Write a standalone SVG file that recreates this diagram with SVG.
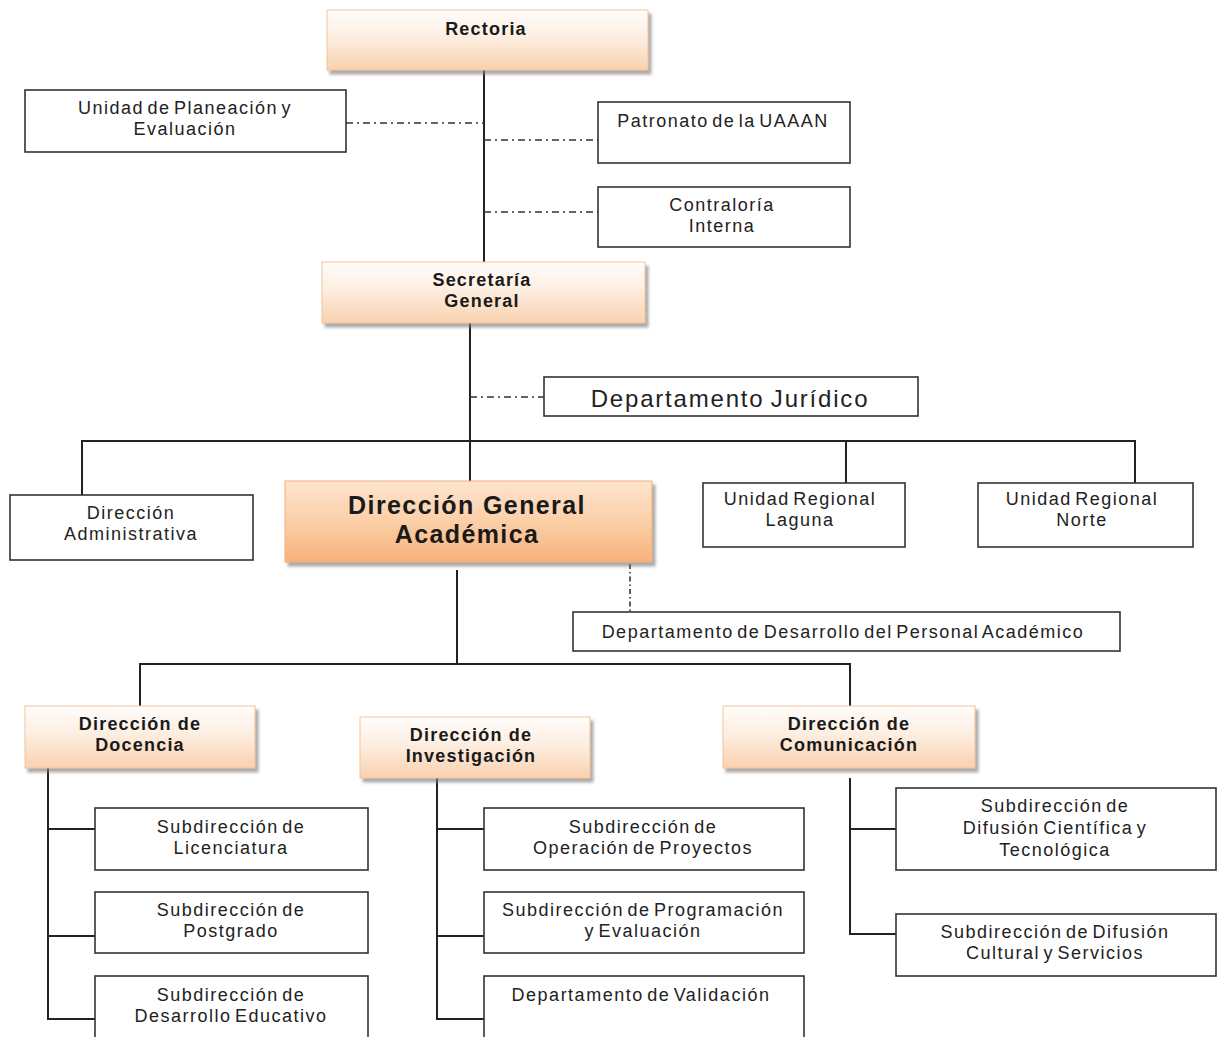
<svg xmlns="http://www.w3.org/2000/svg" width="1218" height="1037" viewBox="0 0 1218 1037">
<defs>
<linearGradient id="gHead" x1="0" y1="0" x2="0" y2="1">
<stop offset="0" stop-color="#fffdfb"/>
<stop offset="0.45" stop-color="#fdeee1"/>
<stop offset="1" stop-color="#f9d1af"/>
</linearGradient>
<linearGradient id="gMain" x1="0" y1="0" x2="0" y2="1">
<stop offset="0" stop-color="#fde4cf"/>
<stop offset="0.5" stop-color="#fbcfa8"/>
<stop offset="1" stop-color="#f8b17a"/>
</linearGradient>
<filter id="sh" x="-5%" y="-10%" width="115%" height="130%">
<feDropShadow dx="3" dy="4" stdDeviation="1.5" flood-color="#7a7a7a" flood-opacity="0.65"/>
</filter>
</defs>
<style>
.head{fill:url(#gHead);stroke:#f2c39c;stroke-width:1;filter:url(#sh)}
.main{fill:url(#gMain);stroke:#f3ae78;stroke-width:1;filter:url(#sh)}
.box{fill:#ffffff;stroke:#333333;stroke-width:1.6}
.t{font-family:"Liberation Sans",Arial,sans-serif;font-size:18px;fill:#222222;text-anchor:middle;letter-spacing:1.5px;word-spacing:-3px}
.b{font-family:"Liberation Sans",Arial,sans-serif;font-size:18px;font-weight:bold;fill:#1a1a1a;text-anchor:middle;letter-spacing:1.2px}
.big{font-family:"Liberation Sans",Arial,sans-serif;font-size:25px;font-weight:bold;fill:#1a1a1a;text-anchor:middle;letter-spacing:1.4px}
.jur{font-family:"Liberation Sans",Arial,sans-serif;font-size:24px;fill:#222222;text-anchor:middle;letter-spacing:1.8px;word-spacing:-2px}
.ln{stroke:#222222;stroke-width:2;fill:none}
.dd{stroke:#333333;stroke-width:1.6;fill:none;stroke-dasharray:7 4 2 4}
.dt{stroke:#333333;stroke-width:1.6;fill:none;stroke-dasharray:5 3 1.5 3}
</style>

<g id="connectors">
<line class="ln" x1="484" y1="70" x2="484" y2="262"/>
<line class="dd" x1="346" y1="123" x2="484" y2="123"/>
<line class="dd" x1="484" y1="140" x2="598" y2="140"/>
<line class="dd" x1="484" y1="212" x2="598" y2="212"/>
<line class="ln" x1="470" y1="323" x2="470" y2="481"/>
<line class="dd" x1="470" y1="397" x2="544" y2="397"/>
<polyline class="ln" points="82,495 82,441 1135,441 1135,483"/>
<line class="ln" x1="846" y1="441" x2="846" y2="483"/>
<line class="dt" x1="630" y1="564" x2="630" y2="612"/>
<line class="ln" x1="457" y1="570" x2="457" y2="664"/>
<polyline class="ln" points="140,706 140,664 850,664 850,706"/>
<polyline class="ln" points="48,768 48,1019 95,1019"/>
<line class="ln" x1="48" y1="829" x2="95" y2="829"/>
<line class="ln" x1="48" y1="936" x2="95" y2="936"/>
<polyline class="ln" points="437,778 437,1019 484,1019"/>
<line class="ln" x1="437" y1="829" x2="484" y2="829"/>
<line class="ln" x1="437" y1="936" x2="484" y2="936"/>
<polyline class="ln" points="850,778 850,934 896,934"/>
<line class="ln" x1="850" y1="829" x2="896" y2="829"/>
</g>

<g id="rectoria">
<rect class="head" x="327" y="10" width="321" height="60"/>
<text class="b" x="486" y="35">Rectoria</text>
</g>
<g id="planeacion">
<rect class="box" x="25" y="90" width="321" height="62"/>
<text class="t" x="185" y="114">Unidad de Planeación y</text>
<text class="t" x="185" y="135">Evaluación</text>
</g>
<g id="patronato">
<rect class="box" x="598" y="102" width="252" height="61"/>
<text class="t" x="723" y="127">Patronato de la UAAAN</text>
</g>
<g id="contraloria">
<rect class="box" x="598" y="187" width="252" height="60"/>
<text class="t" x="722" y="211">Contraloría</text>
<text class="t" x="722" y="232">Interna</text>
</g>
<g id="secretaria">
<rect class="head" x="322" y="262" width="323" height="61"/>
<text class="b" x="482" y="286">Secretaría</text>
<text class="b" x="482" y="307">General</text>
</g>
<g id="juridico">
<rect class="box" x="544" y="377" width="374" height="39"/>
<text class="jur" x="730" y="407">Departamento Jurídico</text>
</g>
<g id="administrativa">
<rect class="box" x="10" y="495" width="243" height="65"/>
<text class="t" x="131" y="519">Dirección</text>
<text class="t" x="131" y="540">Administrativa</text>
</g>
<g id="dga">
<rect class="main" x="285" y="481" width="367" height="81"/>
<text class="big" x="467" y="514">Dirección General</text>
<text class="big" x="467" y="543">Académica</text>
</g>
<g id="laguna">
<rect class="box" x="703" y="483" width="202" height="64"/>
<text class="t" x="800" y="505">Unidad Regional</text>
<text class="t" x="800" y="526">Laguna</text>
</g>
<g id="norte">
<rect class="box" x="978" y="483" width="215" height="64"/>
<text class="t" x="1082" y="505">Unidad Regional</text>
<text class="t" x="1082" y="526">Norte</text>
</g>
<g id="personal">
<rect class="box" x="573" y="612" width="547" height="39"/>
<text class="t" x="843" y="638">Departamento de Desarrollo del Personal Académico</text>
</g>
<g id="docencia">
<rect class="head" x="25" y="706" width="230" height="62"/>
<text class="b" x="140" y="730">Dirección de</text>
<text class="b" x="140" y="751">Docencia</text>
</g>
<g id="investigacion">
<rect class="head" x="360" y="717" width="230" height="61"/>
<text class="b" x="471" y="741">Dirección de</text>
<text class="b" x="471" y="762">Investigación</text>
</g>
<g id="comunicacion">
<rect class="head" x="723" y="706" width="252" height="62"/>
<text class="b" x="849" y="730">Dirección de</text>
<text class="b" x="849" y="751">Comunicación</text>
</g>
<g id="licenciatura">
<rect class="box" x="95" y="808" width="273" height="62"/>
<text class="t" x="231" y="833">Subdirección de</text>
<text class="t" x="231" y="854">Licenciatura</text>
</g>
<g id="postgrado">
<rect class="box" x="95" y="892" width="273" height="61"/>
<text class="t" x="231" y="916">Subdirección de</text>
<text class="t" x="231" y="937">Postgrado</text>
</g>
<g id="educativo">
<rect class="box" x="95" y="976" width="273" height="64"/>
<text class="t" x="231" y="1001">Subdirección de</text>
<text class="t" x="231" y="1022">Desarrollo Educativo</text>
</g>
<g id="operacion">
<rect class="box" x="484" y="808" width="320" height="62"/>
<text class="t" x="643" y="833">Subdirección de</text>
<text class="t" x="643" y="854">Operación de Proyectos</text>
</g>
<g id="programacion">
<rect class="box" x="484" y="892" width="320" height="61"/>
<text class="t" x="643" y="916">Subdirección de Programación</text>
<text class="t" x="643" y="937">y Evaluación</text>
</g>
<g id="validacion">
<rect class="box" x="484" y="976" width="320" height="64"/>
<text class="t" x="641" y="1001">Departamento de Validación</text>
</g>
<g id="cientifica">
<rect class="box" x="896" y="788" width="320" height="82"/>
<text class="t" x="1055" y="812">Subdirección de</text>
<text class="t" x="1055" y="834">Difusión Científica y</text>
<text class="t" x="1055" y="856">Tecnológica</text>
</g>
<g id="cultural">
<rect class="box" x="896" y="914" width="320" height="62"/>
<text class="t" x="1055" y="938">Subdirección de Difusión</text>
<text class="t" x="1055" y="959">Cultural y Servicios</text>
</g>
</svg>
